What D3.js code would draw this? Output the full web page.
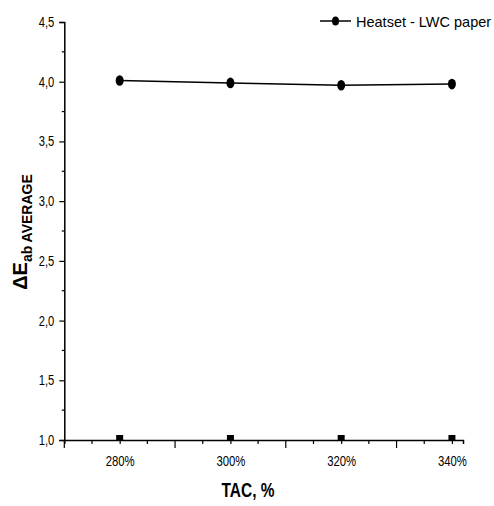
<!DOCTYPE html>
<html>
<head>
<meta charset="utf-8">
<script src="https://cdn.jsdelivr.net/npm/d3@7"></script>
<style>
  body { margin: 0; background: #fff; }
  svg text { font-family: "Liberation Sans", Arial, sans-serif; fill: #000; }
</style>
</head>
<body>
<div id="chart"></div>
<script>
// Données
const categories = ["280%", "300%", "320%", "340%"];
const heatsetValues = [4.01, 3.99, 3.97, 3.98];
const baseValues = [1.0, 1.0, 1.0, 1.0];
const seriesName = "Heatset - LWC paper";
const yTicks = [1.0, 1.5, 2.0, 2.5, 3.0, 3.5, 4.0, 4.5];

const width = 494;
const height = 506;

// Police étroite simulée (pas d'Arial Narrow dispo)
function narrow(sel, factor) {
  sel.each(function() {
    const w = this.getComputedTextLength();
    d3.select(this)
      .attr("textLength", w * factor)
      .attr("lengthAdjust", "spacingAndGlyphs");
  });
}

const svg = d3.select("#chart")
  .append("svg")
    .attr("width", width)
    .attr("height", height);

const xScale = d3.scaleLinear()
  .domain([-0.5, 3.1])
  .range([64.3, 463]);

const yScale = d3.scaleLinear()
  .domain([1, 4.5])
  .range([440, 22]);

const fmt = d => d3.format(".1f")(d).replace(".", ",");

// Y AXIS
const yAxis = svg.append("g")
  .attr("transform", `translate(${xScale(-0.5)},0)`)
  .call(d3.axisLeft(yScale)
    .tickValues(yTicks)
    .tickFormat(fmt)
    .tickSize(5)
    .tickPadding(5)
  );
yAxis.select(".domain").attr("stroke-width", 1.5);
yAxis.selectAll(".tick line").attr("stroke-width", 1.2);
yAxis.selectAll(".tick text").style("font-size", "14px").call(narrow, 0.8);

// minor ticks y
svg.append("g")
  .selectAll("line")
  .data(d3.range(1.25, 4.5, 0.5))
  .enter()
  .append("line")
    .attr("x1", xScale(-0.5) - 2.5)
    .attr("x2", xScale(-0.5))
    .attr("y1", d => yScale(d))
    .attr("y2", d => yScale(d))
    .attr("stroke", "#000")
    .attr("stroke-width", 1.2);

// X AXIS
const xAxis = svg.append("g")
  .attr("transform", `translate(0,${yScale(1)})`)
  .call(d3.axisBottom(xScale)
    .tickValues([0, 1, 2, 3])
    .tickFormat((d, i) => categories[i])
    .tickSize(4)
    .tickPadding(12)
  );
xAxis.select(".domain").attr("stroke-width", 1.5);
xAxis.selectAll(".tick line").attr("stroke-width", 1.2);
xAxis.selectAll(".tick text").style("font-size", "14px").call(narrow, 0.81);

// major / minor ticks x
const majorX = [-0.5, 0.5, 1.5, 2.5];
const minorX = [-0.25, 0.25, 0.75, 1.25, 1.75, 2.25, 2.75];
svg.append("g")
  .selectAll("line")
  .data(majorX)
  .enter()
  .append("line")
    .attr("x1", d => xScale(d))
    .attr("x2", d => xScale(d))
    .attr("y1", yScale(1))
    .attr("y2", yScale(1) + 8)
    .attr("stroke", "#000")
    .attr("stroke-width", 1.2);
svg.append("g")
  .selectAll("line")
  .data(minorX)
  .enter()
  .append("line")
    .attr("x1", d => xScale(d))
    .attr("x2", d => xScale(d))
    .attr("y1", yScale(1))
    .attr("y2", yScale(1) + 4)
    .attr("stroke", "#000")
    .attr("stroke-width", 1.2);

// SQUARES on the base line
svg.append("g")
  .selectAll("rect")
  .data(baseValues)
  .enter()
  .append("rect")
    .attr("x", (d, i) => xScale(i) - 3.5)
    .attr("y", d => yScale(d) - 5)
    .attr("width", 7)
    .attr("height", 6)
    .attr("fill", "#000");

// LINE
const line = d3.line()
  .x((d, i) => xScale(i))
  .y(d => yScale(d));

svg.append("path")
  .datum(heatsetValues)
  .attr("d", line)
  .attr("fill", "none")
  .attr("stroke", "#000")
  .attr("stroke-width", 1.5);

svg.append("g")
  .selectAll("ellipse")
  .data(heatsetValues)
  .enter()
  .append("ellipse")
    .attr("cx", (d, i) => xScale(i))
    .attr("cy", d => yScale(d))
    .attr("rx", 4)
    .attr("ry", 5.3)
    .attr("fill", "#000");

// LEGEND
const legend = svg.append("g").attr("transform", "translate(320,21)");
legend.append("line")
  .attr("x1", 0).attr("x2", 31)
  .attr("y1", 0).attr("y2", 0)
  .attr("stroke", "#000")
  .attr("stroke-width", 1.5);
legend.append("ellipse")
  .attr("cx", 15.5).attr("cy", 0)
  .attr("rx", 3.5).attr("ry", 4.5)
  .attr("fill", "#000");
legend.append("text")
  .attr("x", 36)
  .attr("y", 5.5)
  .style("font-size", "14.5px")
  .text(seriesName);

// AXIS TITLES
svg.append("text")
  .attr("x", 248)
  .attr("y", 497)
  .attr("text-anchor", "middle")
  .style("font-size", "20px")
  .style("font-weight", "bold")
  .attr("textLength", 53)
  .attr("lengthAdjust", "spacingAndGlyphs")
  .text("TAC, %");

const yTitle = svg.append("text")
  .attr("transform", "translate(27,232) rotate(-90)")
  .attr("text-anchor", "middle")
  .style("font-weight", "bold");
yTitle.append("tspan").style("font-size", "20px").text("ΔE");
yTitle.append("tspan").attr("dy", 5).style("font-size", "14px").text("ab AVERAGE");
</script>
</body>
</html>
